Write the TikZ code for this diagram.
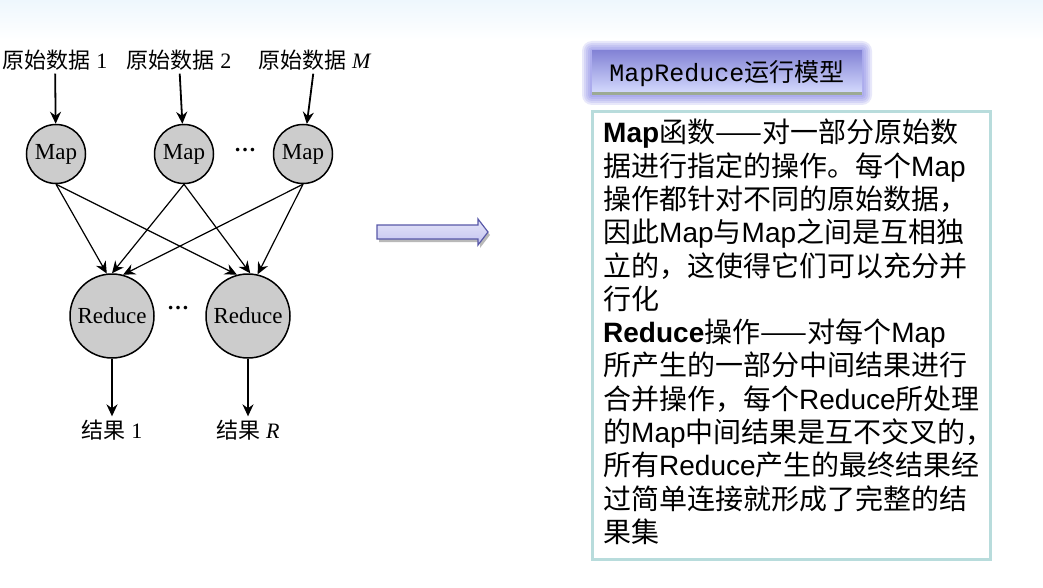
\documentclass[tikz,border=0pt]{standalone}
\usepackage{fontspec}
\setmainfont{Liberation Serif}
\newfontfamily\cjk{Noto Sans CJK SC}
\newfontfamily\arial{Liberation Sans}
\newfontfamily\mono{Liberation Mono}
\usepackage{xcolor}
\usepackage{tikz}
\usetikzlibrary{arrows.meta}
\definecolor{mapgray}{HTML}{CCCCCC}
\definecolor{arrowfill}{HTML}{C4C4F0}
\definecolor{arrowline}{HTML}{5858A8}
\definecolor{titletop}{HTML}{8484D6}
\definecolor{titlemid}{HTML}{D8DEFF}
\definecolor{titleband}{HTML}{9CAA94}
\definecolor{glow}{HTML}{7070E0}
\definecolor{boxline}{HTML}{B8DCDC}
\definecolor{bgtop}{HTML}{EEF7FD}
\newcommand{\lat}[1]{{\arial #1}}

\begin{document}
\begin{tikzpicture}[x=1pt,y=-1pt,
  every node/.style={font=\fontsize{22}{22}\selectfont},
  mapnode/.style={circle,draw,line width=1.5pt,fill=mapgray,minimum size=59pt,inner sep=0pt,font=\fontsize{23}{23}\selectfont},
  rednode/.style={mapnode,minimum size=84pt},
  dotsnode/.style={font=\fontsize{22}{22}\selectfont\bfseries},
  flow/.style={-{Stealth[length=12pt,width=11pt,inset=4pt]},line width=1.8pt},
  cross/.style={-{Stealth[length=12pt,width=11pt,inset=4pt]},line width=1.2pt}]
\useasboundingbox (0,0) rectangle (1043,588);
\shade[top color=bgtop,bottom color=white] (0,0) rectangle (1043,40);

\node (d1) at (55,60) {{\cjk 原始数据} 1};
\node (d2) at (179,60) {{\cjk 原始数据} 2};
\node (dM) at (315,60) {{\cjk 原始数据} \textit{M}};
\node[mapnode] (m1) at (56,154) {Map};
\node[mapnode] (m2) at (184,154) {Map};
\node[mapnode] (mM) at (303,154) {Map};
\node[dotsnode] (mdots) at (245,150) {…};
\node[rednode] (r1) at (112,316) {Reduce};
\node[rednode] (rR) at (248,316) {Reduce};
\node[dotsnode] (rdots) at (178,308) {…};
\node (o1) at (112,430) {{\cjk 结果} 1};
\node (oR) at (248,430) {{\cjk 结果} \textit{R}};

\foreach \d/\m in {d1/m1,d2/m2,dM/mM} \draw[flow] (\d) -- (\m);
\foreach \m/\a/\b in {m1/97/105,m2/90/87,mM/75/77} {
  \draw[cross] (\m.south) -- (r1.\a);
  \draw[cross] (\m.south) -- (rR.\b);
}
\foreach \r/\o in {r1/o1,rR/oR} \draw[flow] (\r) -- (\o);

\fill[gray!55,shift={(2,3)}] (377,225) -- (478,225) -- (478,219) -- (488,232) -- (478,245) -- (478,239) -- (377,239) -- cycle;
\shade[draw=arrowline,line width=1.2pt,top color=arrowfill!45!white,bottom color=arrowfill] (377,225) -- (478,225) -- (478,219) -- (488,232) -- (478,245) -- (478,239) -- (377,239) -- cycle;

\foreach \g in {10,8,6,4,2} \fill[glow,opacity=0.16,rounded corners=\g pt] (592-\g,51-\g) rectangle (862+\g,95+\g);
\shade[top color=titletop,middle color=titlemid,bottom color=titlemid] (592,51) rectangle (862,95);
\draw[titleband,line width=2.5pt] (592,93.5) -- (862,93.5);
\node[font=\fontsize{25}{25}\selectfont] (title) at (727,74) {{\mono MapReduce}{\cjk 运行模型}};

\draw[boxline,line width=3pt] (592,112) rectangle (990,559);
\node[anchor=north west,inner sep=0pt,align=left,font=\cjk\fontsize{28}{33.3}\selectfont] (body) at (603,119) {%
\lat{\bfseries Map}函数——对一部分原始数\\%
据进行指定的操作。每个\lat{Map}\\%
操作都针对不同的原始数据，\\%
因此\lat{Map}与\lat{Map}之间是互相独\\%
立的，这使得它们可以充分并\\%
行化\\%
\lat{\bfseries Reduce}操作——对每个\lat{Map}\\%
所产生的一部分中间结果进行\\%
合并操作，每个\lat{Reduce}所处理\\%
的\lat{Map}中间结果是互不交叉的，\\%
所有\lat{Reduce}产生的最终结果经\\%
过简单连接就形成了完整的结\\%
果集};
\end{tikzpicture}
\end{document}
